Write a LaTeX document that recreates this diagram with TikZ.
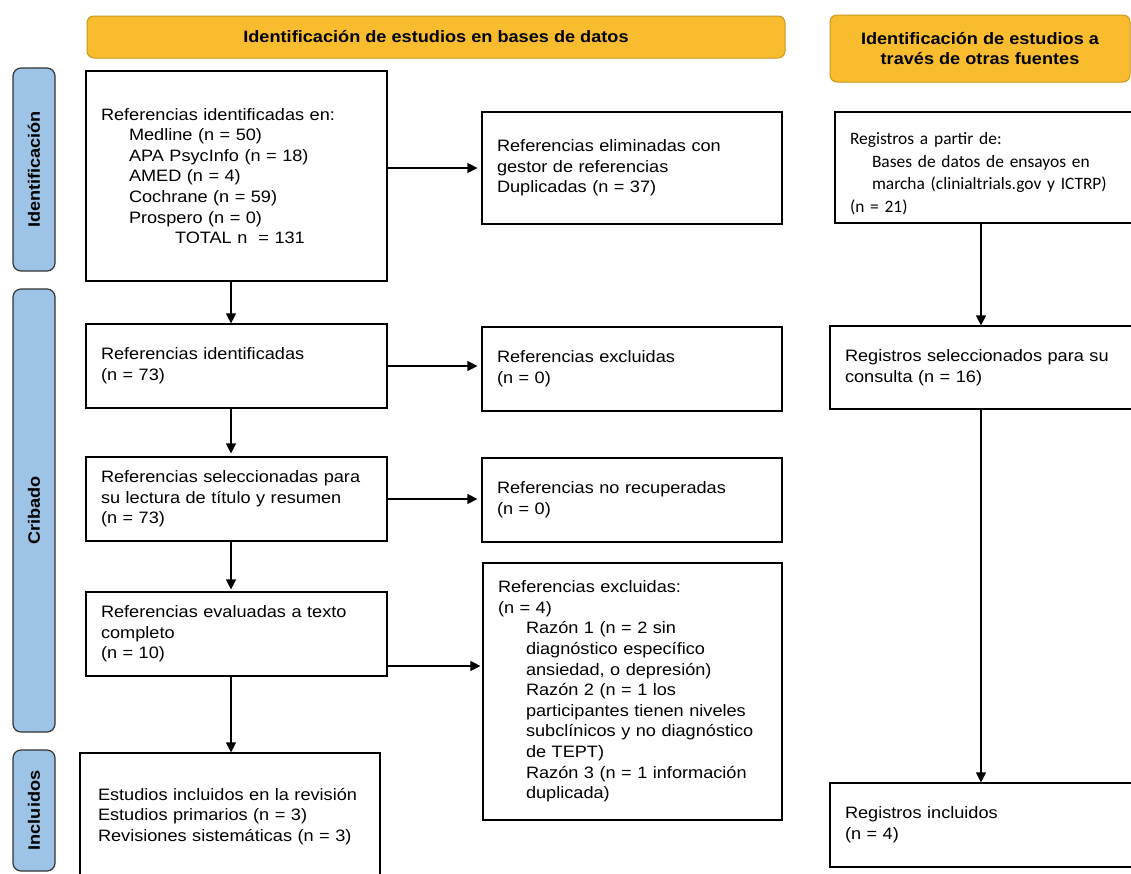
\documentclass[tikz,border=0pt]{standalone}
\usepackage{fontspec}
\setmainfont{Liberation Sans}[FakeStretch=1.1]
\newfontfamily\calib{Carlito}
\usetikzlibrary{arrows.meta}
\definecolor{hdrfill}{HTML}{F8BC2E}
\definecolor{hdrline}{HTML}{C9961E}
\definecolor{sidefill}{HTML}{9DC3E6}
\definecolor{sideline}{HTML}{333333}
\newcommand\bodyfont{\fontsize{16.5}{20.6}\selectfont}
\newcommand\calibfont{\calib\fontsize{17.4}{22.5}\selectfont}
\newcommand\ind{\hspace*{28pt}}
\begin{document}
\begin{tikzpicture}[x=1pt,y=-1pt,
  box/.style={draw=black, line width=1.2pt, rectangle, inner xsep=15pt, inner ysep=4pt, font=\bodyfont, align=left},
  hdr/.style={draw=hdrline, fill=hdrfill, rounded corners=7pt, line width=1pt, font=\bodyfont\bfseries, align=center, inner sep=0pt},
  side/.style={draw=sideline, fill=sidefill, rounded corners=8pt, line width=1.2pt, font=\bodyfont\bfseries, rotate=90, inner sep=0pt},
  arr/.style={line width=1.2pt, -{Triangle[length=10pt,width=10pt]}},
]
\useasboundingbox[fill=white] (0,0) rectangle (1131,873);

% headers
\node[hdr, minimum width=698pt, minimum height=42pt] (H1) at (436,37) {Identificación de estudios en bases de datos};
\node[hdr, minimum width=300pt, minimum height=67pt] (H2) at (980,48.5) {Identificación de estudios a\\[-1pt]través de otras fuentes};

% side labels
\node[side, minimum width=203pt, minimum height=42pt] (S1) at (34,169.5) {Identificación};
\node[side, minimum width=443pt, minimum height=42pt] (S2) at (34,510.5) {Cribado};
\node[side, minimum width=121pt, minimum height=42pt] (S3) at (34,810.5) {Incluidos};

% left column
\node[box, minimum width=301pt, minimum height=210pt, text width=271pt] (A) at (236.5,176)
 {Referencias identificadas en:\\
  \ind Medline (n = 50)\\
  \ind APA PsycInfo (n = 18)\\
  \ind AMED (n = 4)\\
  \ind Cochrane (n = 59)\\
  \ind Prospero (n = 0)\\
  \hspace*{74pt}TOTAL n \ = 131};
\node[box, minimum width=301pt, minimum height=84pt, text width=271pt] (D) at (236.5,366)
 {Referencias identificadas\\(n = 73)};
\node[box, minimum width=301pt, minimum height=84pt, text width=271pt] (F) at (236.5,499)
 {Referencias seleccionadas para\\su lectura de título y resumen\\(n = 73)};
\node[box, minimum width=301pt, minimum height=84pt, text width=271pt] (H) at (236.5,634)
 {Referencias evaluadas a texto\\completo\\(n = 10)};
\node[box, minimum width=294pt, minimum height=127pt, text width=264pt, inner xsep=18pt] (J) at (230,816.5)
 {Estudios incluidos en la revisión\\Estudios primarios (n = 3)\\Revisiones sistemáticas (n = 3)};

% middle column
\node[box, minimum width=300pt, minimum height=112pt, text width=270pt] (B) at (632,168)
 {Referencias eliminadas con\\gestor de referencias\\Duplicadas (n = 37)};
\node[box, minimum width=300pt, minimum height=84pt, text width=270pt] (E) at (632,369)
 {Referencias excluidas\\(n = 0)};
\node[box, minimum width=300pt, minimum height=84pt, text width=270pt] (G) at (632,500)
 {Referencias no recuperadas\\(n = 0)};
\node[box, minimum width=299pt, minimum height=257pt, text width=269pt] (I) at (632.5,691.5)
 {Referencias excluidas:\\
  (n = 4)\\
  \ind Razón 1 (n = 2 sin\\
  \ind diagnóstico específico\\
  \ind ansiedad, o depresión)\\
  \ind Razón 2 (n = 1 los\\
  \ind participantes tienen niveles\\
  \ind subclínicos y no diagnóstico\\
  \ind de TEPT)\\
  \ind Razón 3 (n = 1 información\\
  \ind duplicada)};

% right column
\node[box, font=\calibfont, minimum width=310pt, minimum height=111pt, text width=280pt] (C) at (990,167.5)
 {\rule{0pt}{24pt}Registros a partir de:\\
  \hspace*{22pt}Bases de datos de ensayos en\\
  \hspace*{22pt}marcha (clinialtrials.gov y ICTRP)\\
  (n = 21)};
\node[box, minimum width=306pt, minimum height=83pt, text width=276pt] (K) at (983,367.5)
 {Registros seleccionados para su\\consulta (n = 16)};
\node[box, minimum width=306pt, minimum height=84pt, text width=276pt] (L) at (983,825)
 {Registros incluidos\\(n = 4)};

% connectors
\coordinate (colL) at (231,0);
\coordinate (colR) at (981,0);
\draw[arr] (A.south -| colL) -- (D.north -| colL);
\draw[arr, shorten >=3pt] (D.south -| colL) -- (F.north -| colL);
\draw[arr, shorten >=2pt] (F.south -| colL) -- (H.north -| colL);
\draw[arr] (H.south -| colL) -- (J.north -| colL);
\draw[arr, shorten >=4pt] (A.east |- B.west) -- (B.west);
\draw[arr, shorten >=4pt] (D.east) -- (D.east -| E.west);
\draw[arr, shorten >=4pt] (F.east) -- (F.east -| G.west);
\draw[arr, shorten >=2pt] ([yshift=-32pt]H.east) -- ([yshift=-32pt]H.east -| I.west);
\draw[arr] (C.south -| colR) -- (K.north -| colR);
\draw[arr] (K.south -| colR) -- (L.north -| colR);
\end{tikzpicture}
\end{document}
